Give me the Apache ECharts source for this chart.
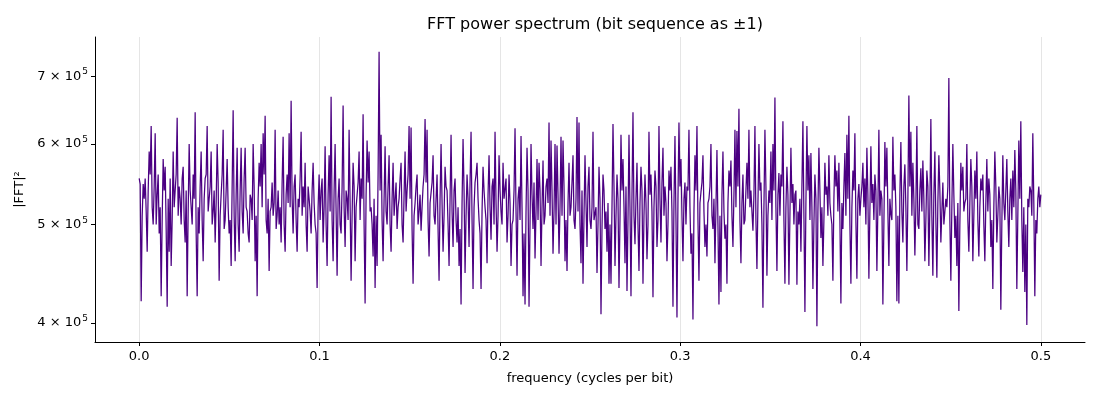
<!DOCTYPE html>
<html>
<head>
<meta charset="utf-8">
<script src="https://cdn.jsdelivr.net/npm/echarts@6/dist/echarts.min.js"></script>
<style>
  html, body { margin: 0; padding: 0; background: #fff; }
  #main { width: 1100px; height: 400px; }
</style>
</head>
<body>
<div id="main"></div>
<script>
// power values, in thousands (x 10^3), evenly spaced bins 0 .. 0.5 cycles/bit
var powerK = [
  // 0.00 - 0.08
  555,548, 420,510, 548,530, 555,515, 470,540, 590,560, 625,520, 500,545, 615,500, 535,560, 490,520, 425,505, 580,540, 570,495, 415,530, 470,555, 455,505, 590,520, 540,560, 637,510,
  545,530, 500,555, 570,505, 480,540, 425,515, 600,540, 520,500, 560,530, 645,490, 425,520, 490,545, 590,505, 460,530, 555,560, 625,515, 530,545, 590,500, 515,540, 480,525, 600,550,
  440,510, 535,560, 620,495, 505,540, 580,520, 490,505, 455,545, 648,510, 460,535, 595,500, 470,540, 595,515, 490,555, 595,520, 515,490, 480,535, 530,505, 600,545, 460,510, 425,530,
  575,545, 600,520, 615,560, 640,505, 490,530, 450,515, 520,550, 510,525, 620,495, 510,540, 500,520, 480,550, 610,500, 470,535, 560,525, 615,520,
  // 0.08 - 0.17
  662,530, 490,545, 560,505, 470,530, 520,555, 617,510, 545,520, 575,500, 470,545, 530,515, 490,540, 575,525, 500,490, 433,520, 560,505, 540,555, 480,520, 597,500, 455,535, 585,515,
  668,505, 460,540, 600,515, 445,530, 555,500, 490,545, 655,520, 475,540, 530,505, 620,525, 440,510, 575,545, 460,520, 520,550, 590,505, 555,530, 642,500, 418,535, 605,550, 590,515,
  520,500, 465,530, 433,510, 455,560, 740,540, 613,505, 460,530, 597,515, 500,545, 585,500, 470,530, 575,510, 510,550, 495,520, 530,555, 575,500, 480,535, 590,515, 540,560, 625,530,
  623,495, 437,510, 525,545, 560,500, 515,535, 493,520, 545,560, 635,550, 620,505, 465,525, 525,550, 585,510, 500,530, 560,495, 440,530,
  // 0.17 - 0.25
  600,525, 470,510, 570,545, 540,500, 455,530, 613,515, 475,540, 555,505, 480,520, 455,495, 417,525, 607,540, 448,510, 560,530, 475,550, 617,505, 432,520, 550,560, 575,530, 505,490,
  432,515, 570,540, 520,505, 458,535, 585,520, 483,545, 555,500, 617,525, 470,510, 585,540, 515,500, 575,530, 530,555, 480,510, 560,525, 455,500, 505,540, 622,515, 445,530, 545,505,
  611,520, 425,490, 417,515, 595,540, 415,500, 600,535, 495,550, 463,515, 580,505, 575,540, 455,520, 578,500, 510,545, 555,525, 630,510, 605,540, 468,515, 600,500, 598,535, 468,520,
  610,510, 605,545, 460,505, 450,525, 575,510, 520,550, 585,505, 495,530, 638,515, 630,500, 458,540, 437,510, 585,525, 475,545, 570,505, 495,520, 617,505,
  // 0.25 - 0.34
  503,520, 448,500, 570,530, 408,495, 560,540, 495,515, 470,525, 437,500, 437,520, 628,545, 455,510, 560,530, 433,505, 613,540, 580,520, 458,545, 430,505, 613,520, 425,535, 645,510,
  478,530, 575,500, 450,525, 570,540, 437,510, 560,525, 462,500, 617,535, 560,515, 424,520, 565,545, 475,505, 625,530, 480,550, 595,510, 545,525, 460,500, 565,540, 570,515, 415,525,
  611,505, 405,530, 630,545, 580,510, 460,530, 550,500, 545,540, 620,520, 468,490, 403,515, 585,540, 625,505, 440,525, 538,550, 585,515, 475,500, 465,525, 530,545, 600,510, 495,530,
  458,520, 592,500, 417,510, 429,535, 590,515, 484,500, 437,525, 565,545, 578,510, 475,535, 620,520, 618,545, 650,505, 458,525, 560,500, 505,540, 575,530, 620,520,
  // 0.34 - 0.42
  540,515, 493,535, 625,505, 452,525, 600,540, 550,500, 414,520, 620,545, 445,510, 540,525, 590,505, 600,540, 667,520, 450,535, 562,510, 560,545, 632,505, 437,520, 570,535, 436,510,
  595,525, 548,500, 535,540, 436,515, 500,530, 470,545, 632,510, 410,525, 625,540, 585,505, 588,520, 432,500, 560,530, 397,515, 595,540, 485,520, 455,505, 575,535, 545,510, 585,525,
  510,500, 440,530, 585,545, 565,515, 575,505, 418,525, 495,545, 588,510, 613,530, 640,500, 437,520, 565,540, 615,505, 442,530, 548,510, 530,545, 575,520, 555,500, 595,535, 442,515,
  597,525, 548,505, 560,540, 450,520, 620,510, 540,530, 417,500, 603,545, 595,515, 455,530, 512,505, 610,540, 560,520, 420,510, 418,535, 603,515, 480,545, 573,520,
  // 0.42 - 0.50
  450,530, 670,545, 617,510, 575,530, 466,520, 625,500, 495,540, 568,515, 578,530, 460,505, 565,545, 455,520, 635,510, 445,535, 590,505, 443,525, 585,540, 480,515, 550,500, 500,530,
  520,545, 697,505, 440,520, 600,535, 485,510, 455,525, 411,500, 575,540, 570,515, 525,530, 600,505, 470,525, 580,545, 460,510, 565,530, 590,505, 465,520, 555,540, 560,500, 460,525,
  580,515, 555,535, 475,505, 432,520, 590,545, 480,510, 545,530, 412,500, 585,525, 505,540, 580,515, 475,530, 555,505, 565,520, 592,540, 432,510, 605,530, 632,505, 449,520, 429,500,
  398,530, 520,545, 540,510, 615,525, 425,505, 490,530, 545,520, 535
];

var freqTicks = [0, 0.1, 0.2, 0.3, 0.4, 0.5];
var powerTicks = [400000, 500000, 600000, 700000];

var fMax = 0.5;
var points = powerK.map(function (p, i) {
  var f = fMax * i / (powerK.length - 1);
  return [f, Math.log10(p * 1000)];
});
var logTicks = powerTicks.map(function (v) { return Math.log10(v); });

var chart = echarts.init(document.getElementById('main'), null, { renderer: 'canvas' });
var option = {
  animation: false,
  backgroundColor: '#fff',
  textStyle: { fontFamily: 'DejaVu Sans' },
  title: {
    text: 'FFT power spectrum (bit sequence as ±1)',
    left: 590,
    textAlign: 'center',
    top: 12,
    textStyle: { fontSize: 16, fontWeight: 'normal', color: '#000', fontFamily: 'DejaVu Sans' }
  },
  grid: { left: 95, right: 15, top: 37, bottom: 58, containLabel: false },
  xAxis: {
    type: 'value',
    min: -0.0245,
    max: 0.5245,
    name: 'frequency (cycles per bit)',
    nameLocation: 'middle',
    nameGap: 30,
    nameTextStyle: { fontSize: 13, color: '#000' },
    axisLine: { show: true, onZero: false, lineStyle: { color: '#000', width: 1 } },
    axisTick: { show: true, length: 4, lineStyle: { color: '#000' }, customValues: freqTicks },
    axisLabel: {
      color: '#000', fontSize: 13, margin: 8,
      customValues: freqTicks,
      formatter: function (v) { return v.toFixed(1); }
    },
    splitLine: { show: true, lineStyle: { color: '#e5e5e5', width: 1 } }
  },
  yAxis: {
    type: 'value',
    min: Math.log10(383000),
    max: Math.log10(765000),
    name: '|FFT|²',
    nameLocation: 'middle',
    nameGap: 66,
    nameTextStyle: { fontSize: 13, color: '#000' },
    axisLine: { show: true, onZero: false, lineStyle: { color: '#000', width: 1 } },
    axisTick: { show: true, length: 4, lineStyle: { color: '#000' }, customValues: logTicks },
    axisLabel: {
      color: '#000', margin: 7,
      customValues: logTicks,
      formatter: function (v) {
        var e = Math.floor(v + 1e-9);
        var m = Math.round(Math.pow(10, v - e));
        return '{m|' + m + ' × 10}{e|' + e + '}';
      },
      rich: {
        m: { fontSize: 13, color: '#000', fontFamily: 'DejaVu Sans' },
        e: { fontSize: 9, color: '#000', fontFamily: 'DejaVu Sans', padding: [0, 0, 8, 1] }
      }
    },
    splitLine: { show: false }
  },
  series: [{
    type: 'line',
    data: points,
    showSymbol: false,
    symbol: 'none',
    lineStyle: { color: '#4b0082', width: 1.25 },
    silent: true
  }]
};
chart.setOption(option);
</script>
</body>
</html>
